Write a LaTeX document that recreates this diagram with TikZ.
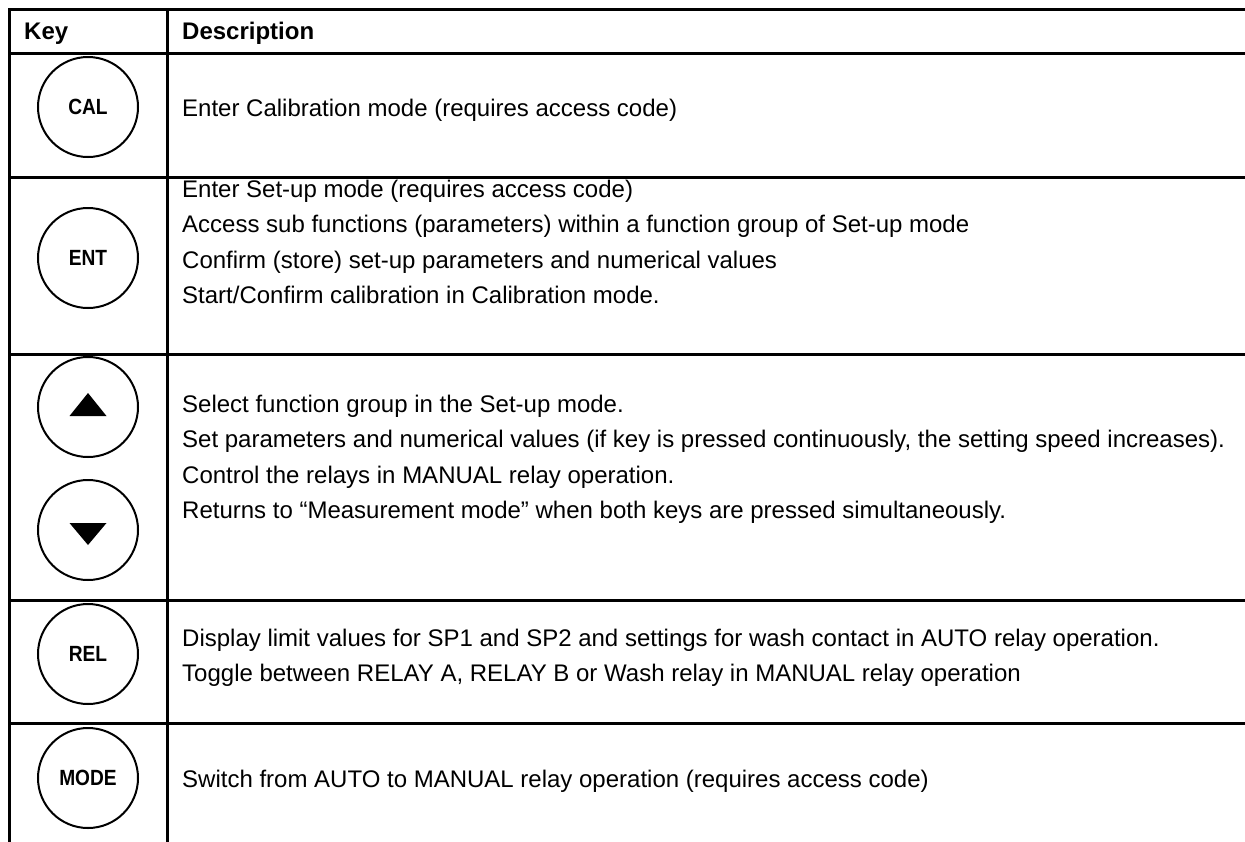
\documentclass[tikz,border=0pt]{standalone}
\usepackage{fontspec}
\setmainfont{Liberation Sans}
\begin{document}
\begin{tikzpicture}[x=1pt,y=-1pt,
  rule/.style={line width=3pt,line cap=rect},
  keycircle/.style={circle,draw,line width=2pt,minimum size=100pt,inner sep=0pt,
    font=\fontsize{22}{24}\selectfont\bfseries},
  desc/.style={anchor=base west,inner sep=0pt,font=\fontsize{24}{28}\selectfont},
  head/.style={anchor=base west,inner sep=0pt,font=\fontsize{24}{28}\selectfont\bfseries}]
\useasboundingbox (0,0) rectangle (1245,841);
% table rules
\coordinate (tl) at (9,9);
\coordinate (tr) at (1245,9);
\coordinate (bl) at (9,841);
\coordinate (dt) at (167,9);
\coordinate (db) at (167,841);
\draw[rule] (tl) -- (tr);
\draw[rule] (tl) -- (bl);
\draw[rule] (dt) -- (db);
\foreach \yy/\nm in {53/h1,177/h2,354/h3,600/h4,723/h5}{
  \coordinate (\nm a) at (9,\yy);
  \coordinate (\nm b) at (1245,\yy);
  \draw[rule] (\nm a) -- (\nm b);
}
% header
\node[head] (hkey) at (24,39) {Key};
\node[head] (hdesc) at (182,39) {Description};
% keys
\node[keycircle] (cal) at (88,107) {\scalebox{0.87}[1]{CAL}};
\node[keycircle] (ent) at (88,258) {\scalebox{0.87}[1]{ENT}};
\node[keycircle] (up) at (88,407) {};
\node[keycircle] (down) at (88,530) {};
\node[keycircle] (rel) at (88,654) {\scalebox{0.87}[1]{REL}};
\node[keycircle] (mode) at (88,778) {\scalebox{0.87}[1]{MODE}};
\fill ([shift={(0,-14)}]up.center) -- ([shift={(-18.5,9)}]up.center) -- ([shift={(18.5,9)}]up.center) -- cycle;
\fill ([shift={(0,15)}]down.center) -- ([shift={(-18.5,-7)}]down.center) -- ([shift={(18.5,-7)}]down.center) -- cycle;
% descriptions
\node[desc] (d1) at (182,116) {Enter Calibration mode (requires access code)};
\node[desc] (d2) at (182,197) {Enter Set-up mode (requires access code)};
\node[desc] (d3) at (182,232) {Access sub functions (parameters) within a function group of Set-up mode};
\node[desc] (d4) at (182,268) {Confirm (store) set-up parameters and numerical values};
\node[desc] (d5) at (182,303) {Start/Confirm calibration in Calibration mode.};
\node[desc] (d6) at (182,412) {Select function group in the Set-up mode.};
\node[desc] (d7) at (182,447) {Set parameters and numerical values (if key is pressed continuously, the setting speed increases).};
\node[desc] (d8) at (182,483) {Control the relays in MANUAL relay operation.};
\node[desc] (d9) at (182,518) {Returns to “Measurement mode” when both keys are pressed simultaneously.};
\node[desc] (d10) at (182,646) {Display limit values for SP1 and SP2 and settings for wash contact in AUTO relay operation.};
\node[desc] (d11) at (182,681) {Toggle between RELAY A, RELAY B or Wash relay in MANUAL relay operation};
\node[desc] (d12) at (182,787) {Switch from AUTO to MANUAL relay operation (requires access code)};
\end{tikzpicture}
\end{document}
